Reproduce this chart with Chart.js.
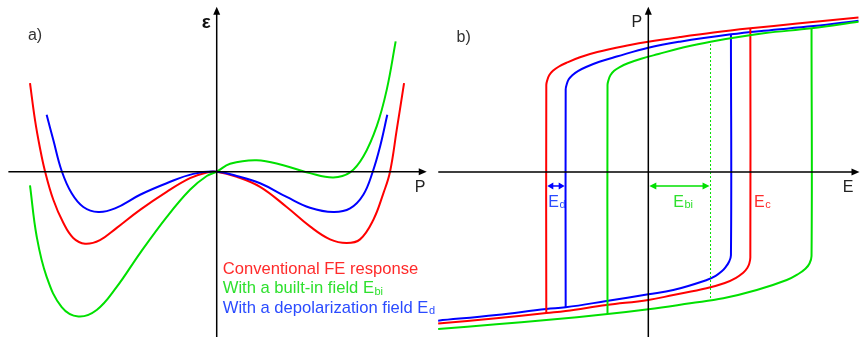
<!DOCTYPE html>
<html>
<head>
<meta charset="utf-8">
<script src="https://cdn.jsdelivr.net/npm/chart.js@4/dist/chart.umd.min.js"></script>
<style>
  html, body { margin: 0; padding: 0; background: #fff; }
  #wrap { position: relative; width: 860px; height: 337px; overflow: hidden; }
  #panelA { position: absolute; left: 0; top: 0; }
  #panelB { position: absolute; left: 430px; top: 0; }
</style>
</head>
<body>
<div id="wrap">
  <canvas id="panelA" width="445" height="337"></canvas>
  <canvas id="panelB" width="430" height="337"></canvas>
</div>
<script>
// ---------- a) free energy vs polarization ----------
const polRed    = [-1.425, -1.387, -1.349, -1.311, -1.247, -1.171, -1.095, -1.005, -0.891, -0.763, -0.585, -0.382, -0.204, -0.076, 0, 0.153, 0.331, 0.534, 0.712, 0.865, 0.992, 1.094, 1.195, 1.272, 1.323, 1.374, 1.430];
const energyRed = [1.23, 0.72, 0.33, 0.01, -0.39, -0.71, -0.92, -1.00, -0.95, -0.78, -0.53, -0.28, -0.09, -0.01, 0, -0.07, -0.21, -0.49, -0.76, -0.94, -0.99, -0.94, -0.67, -0.30, 0, 0.58, 1.23];

const polGreen    = [-1.425, -1.374, -1.298, -1.183, -1.056, -0.916, -0.763, -0.585, -0.382, -0.204, -0.076, 0, 0.102, 0.305, 0.508, 0.712, 0.890, 1.018, 1.119, 1.221, 1.298, 1.366];
const energyGreen = [-0.19, -0.90, -1.46, -1.88, -2.01, -1.92, -1.60, -1.13, -0.63, -0.25, -0.06, 0, 0.11, 0.16, 0.09, -0.02, -0.08, -0.01, 0.21, 0.63, 1.14, 1.81];

const polBlue    = [-1.298, -1.247, -1.183, -1.107, -1.018, -0.904, -0.776, -0.585, -0.382, -0.179, 0, 0.153, 0.331, 0.534, 0.712, 0.890, 1.018, 1.119, 1.191, 1.247, 1.302];
const energyBlue = [0.79, 0.44, 0.01, -0.30, -0.49, -0.56, -0.51, -0.32, -0.16, -0.03, 0, -0.06, -0.16, -0.35, -0.50, -0.56, -0.51, -0.32, 0, 0.35, 0.79];

const legendLabels = [
  ['Conventional FE response', ''],
  ['With a built-in field E', 'bi'],
  ['With a depolarization field E', 'd']
];

// ---------- b) hysteresis loops P(E) ----------
// "Up" = upper branch incl. the downward switching line, "Lo" = lower branch incl. the upward switching line
const redUpE = [-1.0, -1.0, -0.99, -0.97, -0.935, -0.88, -0.80, -0.67, -0.50, -0.18, 0, 0.31, 0.64, 1.0, 1.46, 2.06];
const redUpP = [-0.94, 0.58, 0.613, 0.647, 0.675, 0.702, 0.729, 0.765, 0.80, 0.847, 0.869, 0.90, 0.93, 0.958, 0.99, 1.03];
const redLoE = [-2.06, -1.49, -1.0, -0.81, -0.41, 0, 0.245, 0.57, 0.75, 0.86, 0.93, 0.97, 0.99, 1.0, 1.0];
const redLoP = [-1.01, -0.975, -0.94, -0.927, -0.887, -0.853, -0.82, -0.775, -0.74, -0.705, -0.672, -0.64, -0.61, -0.57, 0.958];

const blueUpE = [-0.81, -0.81, -0.80, -0.78, -0.745, -0.69, -0.61, -0.48, -0.31, 0, 0.31, 0.81, 1.13, 1.62, 2.06];
const blueUpP = [-0.902, 0.551, 0.584, 0.618, 0.646, 0.673, 0.70, 0.735, 0.77, 0.829, 0.869, 0.918, 0.942, 0.973, 1.009];
const blueLoE = [-2.06, -1.49, -1.0, -0.81, -0.41, 0, 0.245, 0.573, 0.66, 0.72, 0.76, 0.79, 0.81, 0.81];
const blueLoP = [-0.991, -0.953, -0.913, -0.902, -0.86, -0.815, -0.787, -0.72, -0.692, -0.662, -0.632, -0.60, -0.555, 0.918];

const greenUpE = [-0.40, -0.40, -0.39, -0.37, -0.335, -0.28, -0.20, -0.07, 0.10, 0.31, 0.61, 1.13, 1.60, 2.06];
const greenUpP = [-0.947, 0.58, 0.613, 0.647, 0.675, 0.70, 0.725, 0.755, 0.787, 0.825, 0.869, 0.925, 0.958, 1.002];
const greenLoE = [-2.06, -1.49, -1.0, -0.40, 0, 0.41, 0.735, 1.063, 1.357, 1.47, 1.54, 1.58, 1.60, 1.60];
const greenLoP = [-1.047, -1.015, -0.987, -0.947, -0.915, -0.875, -0.842, -0.787, -0.72, -0.68, -0.645, -0.61, -0.56, 0.958];

// characteristic fields
const coerciveField = 1.0;   // Ec
const builtInField  = 0.61;  // Ebi
const depolField    = 0.19;  // Ed
const biasLineP     = [-0.84, 0.87];

// ---------- styling ----------
const RED = '#ff0000', GREEN = '#00e000', BLUE = '#0000ff';
const RED_TXT = '#ff2b2b', GREEN_TXT = '#2ee02e', BLUE_TXT = '#2a4bff';
const FONT = '"Liberation Sans", Arial, sans-serif';

function pts(xs, ys) { return xs.map((x, i) => ({ x: x, y: ys[i] })); }

function curve(xs, ys, color) {
  return {
    data: pts(xs, ys),
    borderColor: color,
    borderWidth: 2,
    pointRadius: 0,
    fill: false,
    tension: 0.4
  };
}

function drawText(ctx, x, y, main, sub, color, size, weight) {
  ctx.fillStyle = color;
  ctx.textBaseline = 'alphabetic';
  ctx.textAlign = 'left';
  ctx.font = (weight || '') + ' ' + size + 'px ' + FONT;
  ctx.fillText(main, x, y);
  if (sub) {
    const w = ctx.measureText(main).width;
    ctx.font = Math.round(size * 0.66) + 'px ' + FONT;
    ctx.fillText(sub, x + w + 0.5, y + 1.5);
  }
}

function head(ctx, x, y, dir, len, half) {
  ctx.beginPath();
  if (dir === 'right') { ctx.moveTo(x, y); ctx.lineTo(x - len, y - half); ctx.lineTo(x - len, y + half); }
  if (dir === 'left')  { ctx.moveTo(x, y); ctx.lineTo(x + len, y - half); ctx.lineTo(x + len, y + half); }
  if (dir === 'up')    { ctx.moveTo(x, y); ctx.lineTo(x - half, y + len); ctx.lineTo(x + half, y + len); }
  ctx.closePath();
  ctx.fill();
}

function drawAxes(chart, xMin, xMax, yMin, yMax) {
  const { ctx, scales: { x, y } } = chart;
  const ox = x.getPixelForValue(0), oy = y.getPixelForValue(0);
  const xl = x.getPixelForValue(xMin), xr = x.getPixelForValue(xMax);
  const yb = y.getPixelForValue(yMin), yt = y.getPixelForValue(yMax);
  ctx.save();
  ctx.strokeStyle = '#000';
  ctx.fillStyle = '#000';
  ctx.lineWidth = 1.5;
  ctx.beginPath();
  ctx.moveTo(xl, oy); ctx.lineTo(xr - 5, oy);
  ctx.moveTo(ox, yb); ctx.lineTo(ox, yt + 5);
  ctx.stroke();
  head(ctx, xr, oy, 'right', 8, 3.5);
  head(ctx, ox, yt, 'up', 8, 3.5);
  ctx.restore();
}

// ---------- panel a ----------
const panelAPlugin = {
  id: 'panelAOverlay',
  afterDatasetsDraw(chart) {
    const { ctx, scales: { x, y } } = chart;
    drawAxes(chart, -1.59, 1.603, -2.35, 2.292);
    ctx.save();
    drawText(ctx, x.getPixelForValue(-1.441), y.getPixelForValue(1.83), 'a)', '', '#333', 16);
    drawText(ctx, x.getPixelForValue(-0.115), y.getPixelForValue(2.0), 'ε', '', '#111', 19, 'bold');
    drawText(ctx, x.getPixelForValue(1.512), y.getPixelForValue(-0.285), 'P', '', '#222', 16);
    const colors = [RED_TXT, GREEN_TXT, BLUE_TXT];
    const rows = [-1.42, -1.69, -1.96];
    legendLabels.forEach((lab, i) => {
      drawText(ctx, x.getPixelForValue(0.046), y.getPixelForValue(rows[i]), lab[0], lab[1], colors[i], 16.6);
    });
    ctx.restore();
  }
};

new Chart(document.getElementById('panelA'), {
  type: 'line',
  data: {
    datasets: [
      curve(polGreen, energyGreen, GREEN),
      curve(polBlue, energyBlue, BLUE),
      curve(polRed, energyRed, RED)
    ]
  },
  options: {
    responsive: false,
    animation: false,
    devicePixelRatio: 1,
    layout: { padding: { left: 0, right: 15, top: 0, bottom: 0 } },
    plugins: { legend: { display: false }, tooltip: { enabled: false } },
    scales: {
      x: { type: 'linear', display: false, min: -1.654, max: 1.628 },
      y: { type: 'linear', display: false, min: -2.296, max: 2.385 }
    }
  },
  plugins: [panelAPlugin]
});

// ---------- panel b ----------
const panelBPlugin = {
  id: 'panelBOverlay',
  afterDatasetsDraw(chart) {
    const { ctx, scales: { x, y } } = chart;
    drawAxes(chart, -2.059, 2.07, -1.2, 1.102);
    ctx.save();
    const ay = y.getPixelForValue(-0.093);
    // Ed arrow
    const d0 = x.getPixelForValue(-coerciveField), d1 = x.getPixelForValue(-coerciveField + depolField);
    ctx.strokeStyle = BLUE; ctx.fillStyle = BLUE; ctx.lineWidth = 1.5;
    ctx.beginPath(); ctx.moveTo(d0 + 3, ay); ctx.lineTo(d1 - 3, ay); ctx.stroke();
    head(ctx, d0 + 1, ay, 'left', 6, 3.5);
    head(ctx, d1 - 1, ay, 'right', 6, 3.5);
    // Ebi arrow
    const b0 = x.getPixelForValue(0), b1 = x.getPixelForValue(builtInField);
    ctx.strokeStyle = GREEN; ctx.fillStyle = GREEN;
    ctx.beginPath(); ctx.moveTo(b0 + 4, ay); ctx.lineTo(b1 - 4, ay); ctx.stroke();
    head(ctx, b0 + 1, ay, 'left', 7, 3.5);
    head(ctx, b1 - 1, ay, 'right', 7, 3.5);
    // labels
    const ly = y.getPixelForValue(-0.231);
    drawText(ctx, x.getPixelForValue(-0.98), ly, 'E', 'd', BLUE_TXT, 16);
    drawText(ctx, x.getPixelForValue(0.245), ly, 'E', 'bi', GREEN_TXT, 16);
    drawText(ctx, x.getPixelForValue(1.036), ly, 'E', 'c', RED_TXT, 16);
    drawText(ctx, x.getPixelForValue(-1.88), y.getPixelForValue(0.87), 'b)', '', '#333', 16);
    drawText(ctx, x.getPixelForValue(-0.165), y.getPixelForValue(0.965), 'P', '', '#222', 16);
    drawText(ctx, x.getPixelForValue(1.905), y.getPixelForValue(-0.135), 'E', '', '#222', 16);
    ctx.restore();
  }
};

new Chart(document.getElementById('panelB'), {
  type: 'line',
  data: {
    datasets: [
      {
        data: pts([builtInField, builtInField], biasLineP),
        borderColor: GREEN, borderWidth: 1, borderDash: [2, 2], pointRadius: 0, fill: false
      },
      curve(greenLoE, greenLoP, GREEN),
      curve(greenUpE, greenUpP, GREEN),
      curve(redLoE, redLoP, RED),
      curve(redUpE, redUpP, RED),
      curve(blueLoE, blueLoP, BLUE),
      curve(blueUpE, blueUpP, BLUE)
    ]
  },
  options: {
    responsive: false,
    animation: false,
    devicePixelRatio: 1,
    layout: { padding: 0 },
    plugins: { legend: { display: false }, tooltip: { enabled: false } },
    scales: {
      x: { type: 'linear', display: false, min: -2.140, max: 2.075 },
      y: { type: 'linear', display: false, min: -1.1, max: 1.147 }
    }
  },
  plugins: [panelBPlugin]
});
</script>
</body>
</html>
